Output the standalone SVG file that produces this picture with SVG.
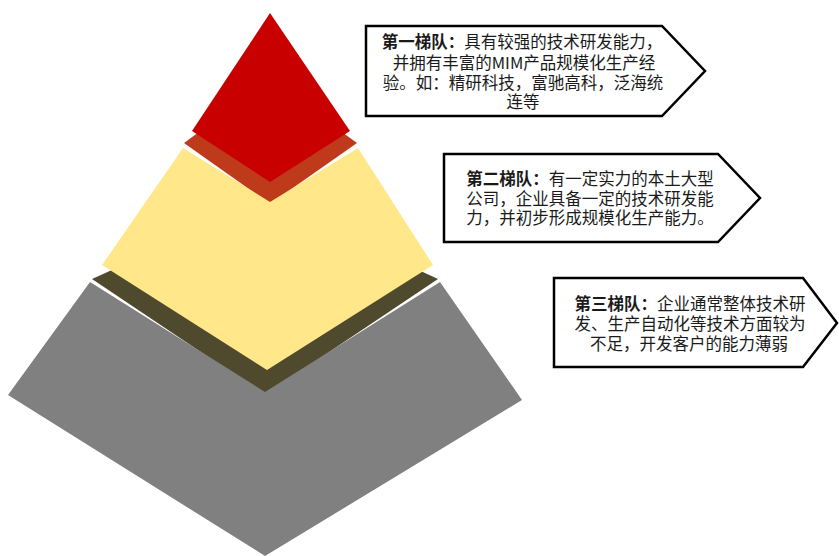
<svg xmlns="http://www.w3.org/2000/svg" width="839" height="556" viewBox="0 0 839 556">
<style>
.box{fill:#fff;stroke:#000;stroke-width:2.5;stroke-linejoin:miter}
.t{font-family:"Noto Sans CJK SC","Noto Sans",sans-serif;font-size:16.5px;fill:#1a1a1a;text-anchor:middle;dominant-baseline:central}
.b{font-weight:bold}
</style>
<rect width="839" height="556" fill="#fff"/>
<g id="pyramid">
  <g id="tier3">
    <polygon points="92,279 267,200 438,279 265,395" fill="#4F4A2E"/>
    <polygon points="90,282 265,392 440,282 522,400 265,556 8,395" fill="#808080"/>
  </g>
  <g id="tier2">
    <polygon points="184,143 270,80 357,143 270,204" fill="#BF3A1A"/>
    <polygon points="183,148 270,202 358,148 433,265 267,370 102,265" fill="#FFE78A"/>
  </g>
  <g id="tier1">
    <polygon points="270,13 350,131 270,182 192,131" fill="#C80000"/>
  </g>
</g>
<g id="label1">
  <polygon class="box" points="366,26 662,26 705,71 662,116 366,116"/>
  <text class="t" x="522" y="41"><tspan class="b">第一梯队：</tspan>具有较强的技术研发能力，</text>
  <text class="t" x="524" y="62">并拥有丰富的MIM产品规模化生产经</text>
  <text class="t" x="523" y="82">验。如：精研科技，富驰高科，泛海统</text>
  <text class="t" x="523" y="101">连等</text>
</g>
<g id="label2">
  <polygon class="box" points="444,154 718,154 760,198 718,242 444,242"/>
  <text class="t" x="590" y="178"><tspan class="b">第二梯队：</tspan>有一定实力的本土大型</text>
  <text class="t" x="590" y="198">公司，企业具备一定的技术研发能</text>
  <text class="t" x="590" y="217">力，并初步形成规模化生产能力。</text>
</g>
<g id="label3">
  <polygon class="box" points="554,278 803,278 837,323 803,367 554,367"/>
  <text class="t" x="690" y="303"><tspan class="b">第三梯队：</tspan>企业通常整体技术研</text>
  <text class="t" x="690" y="323">发、生产自动化等技术方面较为</text>
  <text class="t" x="689" y="343">不足，开发客户的能力薄弱</text>
</g>
<g id="connectors"></g>
</svg>
